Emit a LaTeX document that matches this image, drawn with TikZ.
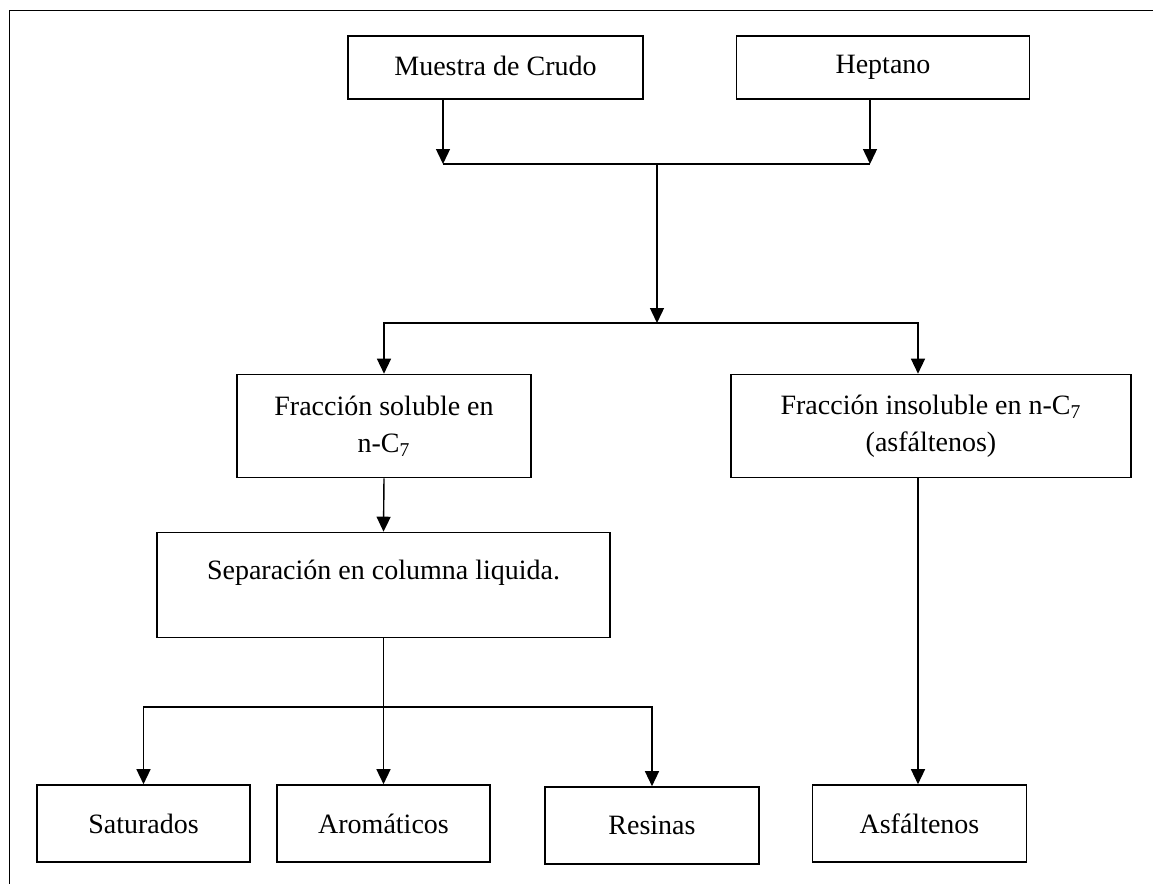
\documentclass[tikz,border=0pt]{standalone}
\usepackage{fontspec}
\setmainfont{Liberation Serif}
\usepackage{tikz}
\usetikzlibrary{arrows.meta, calc, positioning}

\tikzset{
    caja/.style={draw, line width=0.8pt, align=center, inner sep=2pt,
                 font=\fontsize{14}{18.5}\selectfont},
    flecha/.style={line width=0.7pt, -{Triangle[length=7.5pt,width=7pt]}},
    linea/.style={line width=0.7pt}
}

\begin{document}
\begin{tikzpicture}[x=0.5pt,y=-0.5pt]
        \useasboundingbox (0,0) rectangle (1153,884);
        \begin{scope}
          \clip (0,0) rectangle (1153,884);
          \draw[line width=0.5pt] (9,884) -- (9,10) -- (1153,10);
        \end{scope}

        % cajas
        \node[caja, minimum width=147.5pt, minimum height=31.5pt, text depth=2pt] (muestra) at (495.5,67.5) {Muestra de Crudo};
        \node[caja, minimum width=146.5pt, minimum height=31.5pt] (heptano) at (883,67.5) {Heptano};
        \node[caja, minimum width=147pt, minimum height=51.5pt] (soluble) at (384,426) {Fracción soluble en\\n-C\textsubscript{7}};
        \node[caja, minimum width=200pt, minimum height=51.5pt] (insoluble) at (931,426) {Fracción insoluble en n-C\textsubscript{7}\\(asfáltenos)};
        \node[caja, minimum width=226.5pt, minimum height=52.5pt, text height=9pt, text depth=15pt] (separacion) at (383.5,585) {Separación en columna liquida.};
        \node[caja, minimum width=106.5pt, minimum height=38.5pt] (saturados) at (143.5,823.5) {Saturados};
        \node[caja, minimum width=106.5pt, minimum height=38.5pt] (aromaticos) at (383.5,823.5) {Aromáticos};
        \node[caja, minimum width=107pt, minimum height=38.5pt] (resinas) at (652,825.5) {Resinas};
        \node[caja, minimum width=107pt, minimum height=38.5pt] (asfaltenos) at (919.5,823.5) {Asfáltenos};

        % uniones
        \coordinate (jl) at (443,164);
        \coordinate (jr) at (870,164);
        \coordinate (jm) at (657,164);
        \coordinate (split1) at (657,323);
        \coordinate (cr) at (918,323);
        \coordinate (split2) at (384,707);

        \draw[flecha] (jl |- muestra.south) -- (jl);
        \draw[flecha] (jr |- heptano.south) -- (jr);
        \draw[linea] (jl) -- (jr);
        \draw[flecha] (jm) -- (split1);
        \draw[flecha] (split1) -| (soluble.north);
        \draw[flecha] (split1) -- (cr) -- (cr |- insoluble.north);
        \draw[flecha] (soluble.south) -- (separacion.north);
        \draw[flecha] (separacion.south) -- (aromaticos.north);
        \draw[flecha] (split2) -| (saturados.north);
        \draw[flecha] (split2) -| (resinas.north);
        \draw[flecha] (cr |- insoluble.south) -- (cr |- asfaltenos.north);
\end{tikzpicture}
\end{document}
